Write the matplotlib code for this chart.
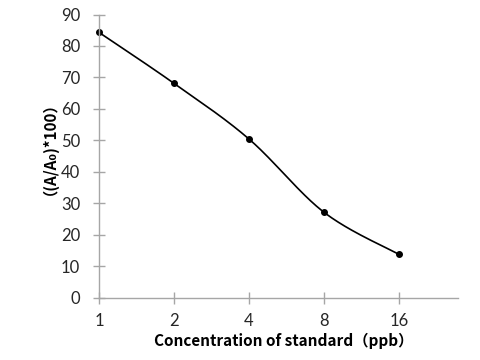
import numpy as np
import matplotlib
matplotlib.use("Agg")
import matplotlib.pyplot as plt

categories = ["1", "2", "4", "8", "16"]
values = [84.3, 68.1, 50.4, 27.1, 13.7]
yticks = [0, 10, 20, 30, 40, 50, 60, 70, 80, 90]

FONT = ["Lato", "Noto Sans CJK SC", "DejaVu Sans"]
LFONT = ["Noto Sans CJK SC", "DejaVu Sans"]
plt.rcParams["font.family"] = FONT

fig = plt.figure(figsize=(4.8, 3.6), dpi=100)
ax = fig.add_axes([99/480, 1-297.5/360, (458-99)/480, (297.5-14.5)/360])

x = np.arange(len(categories), dtype=float)
y = np.array(values, dtype=float)

# Excel-like smoothed line via cubic Bezier segments
P = np.column_stack([x, y])
n = len(P)
t = np.linspace(0, 1, 40)
pts = []
for i in range(n - 1):
    p0 = P[i - 1] if i > 0 else P[i]
    p1 = P[i]
    p2 = P[i + 1]
    p3 = P[i + 2] if i + 2 < n else P[i + 1]
    c1 = p1 + (p2 - p0) / 6.0
    c2 = p2 - (p3 - p1) / 6.0
    seg = ((1-t)**3)[:, None]*p1 + (3*(1-t)**2*t)[:, None]*c1 + (3*(1-t)*t**2)[:, None]*c2 + (t**3)[:, None]*p2
    pts.append(seg)
pts = np.vstack(pts)
ax.plot(pts[:, 0], pts[:, 1], color="black", lw=1.2, solid_capstyle="round", clip_on=False)
ax.plot(x, y, "o", color="black", ms=4, clip_on=False)

ax.set_xlim(0, 4.787)
ax.set_ylim(0, 90)
ax.set_yticks(yticks)
ax.set_xticks(x)
ax.set_xticklabels(categories)
for s in ["top", "right"]:
    ax.spines[s].set_visible(False)
for s in ["left", "bottom"]:
    ax.spines[s].set_color("#a6a6a6")
    ax.spines[s].set_linewidth(1.0)
ax.tick_params(axis="both", direction="inout", length=9, width=1.0, color="#a6a6a6",
               labelsize=12, labelcolor="#262626")
ax.tick_params(axis="y", pad=9)
ax.tick_params(axis="x", pad=7)

fig.text(284/480, 1-346/360, "Concentration of standard（ppb）", ha="center", va="baseline",
         fontsize=11, fontweight="bold", color="black", family=LFONT)
fig.text(42/480, 1-141/360, "（(A/A₀)*100）", ha="center", va="center", rotation=90,
         fontsize=11, fontweight="bold", color="black", family=LFONT)

fig.savefig("out.png", dpi=100)
